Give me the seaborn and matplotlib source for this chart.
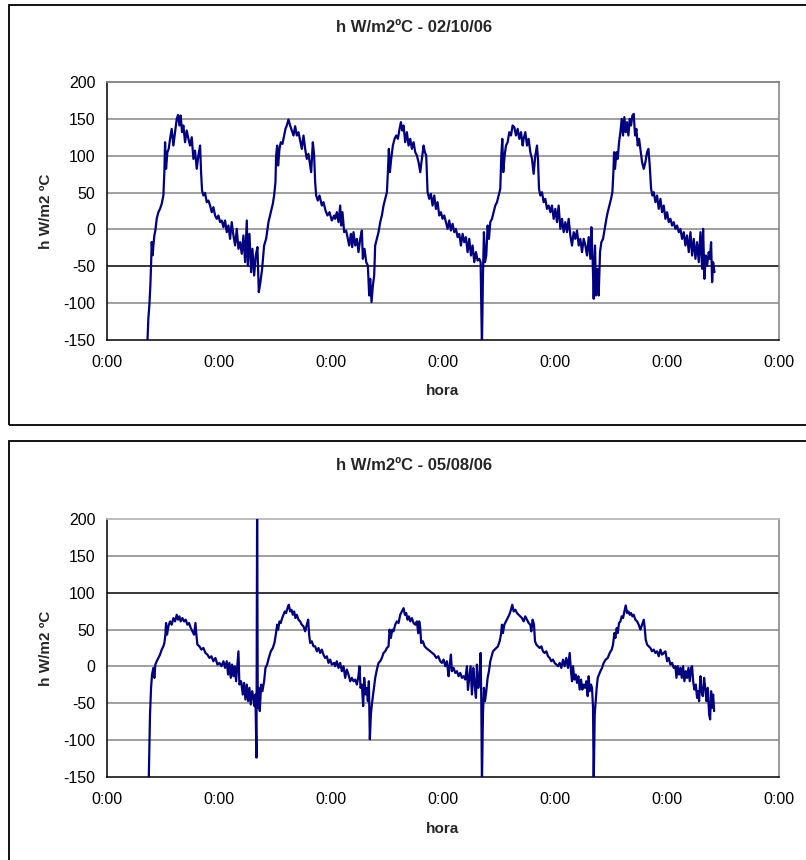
import matplotlib
matplotlib.use("Agg")
import matplotlib.pyplot as plt
import pandas as pd
import seaborn as sns
from matplotlib.patches import Rectangle
from matplotlib.ticker import FuncFormatter, FixedLocator

# ---------------------------------------------------------------- data
titulos = ["h W/m2ºC - 02/10/06", "h W/m2ºC - 05/08/06"]
etiqueta_x = "hora"
etiqueta_y = "h W/m2 ºC"
ticks_y = [-150, -100, -50, 0, 50, 100, 150, 200]
ticks_x = [0, 24, 48, 72, 96, 120, 144]   # hours since start, one per day

# series 02/10/06  (hours, h)
hora_021006 = [
    8.75, 8.96, 9.18, 9.39, 9.54, 9.68, 9.89, 10.04, 10.25, 10.46,
    10.75, 11.11, 11.46, 11.82, 12.18, 12.39, 12.54, 12.75, 13.04, 13.32,
    13.61, 13.96, 14.32, 14.68, 15.04, 15.32, 15.61, 15.89, 16.18, 16.46,
    16.82, 17.18, 17.54, 17.89, 18.25, 18.61, 18.96, 19.32, 19.68, 20.04,
    20.25, 20.46, 20.75, 21.11, 21.46, 21.82, 22.18, 22.54, 22.89, 23.25,
    23.61, 23.96, 24.32, 24.68, 25.04, 25.39, 25.75, 26.11, 26.46, 26.82,
    27.18, 27.54, 27.89, 28.25, 28.61, 28.96, 29.32, 29.68, 30.04, 30.25,
    30.61, 30.96, 31.25, 31.61, 31.96, 32.32, 32.61, 32.96, 33.32, 33.75,
    34.18, 34.68, 35.18, 35.61, 35.89, 36.18, 36.32, 36.54, 36.75, 37.04,
    37.32, 37.68, 38.04, 38.32, 38.61, 38.96, 39.32, 39.68, 40.04, 40.39,
    40.75, 41.11, 41.46, 41.82, 42.18, 42.54, 42.89, 43.25, 43.61, 43.82,
    44.18, 44.46, 44.68, 44.89, 45.25, 45.61, 46.11, 46.46, 46.89, 47.32,
    47.75, 48.25, 48.75,
    48.96, 49.32, 49.68, 50.04, 50.25, 50.53, 50.89, 51.32, 51.61, 51.96,
    52.32, 52.61, 52.89, 53.25, 53.61, 53.96, 54.32, 54.68, 54.89, 55.25,
    55.61, 55.96, 56.25, 56.46, 56.75, 57.04, 57.32, 57.53, 57.89, 58.25,
    58.61, 58.96, 59.32, 59.68, 60.04, 60.25, 60.46, 60.68, 60.96, 61.32,
    61.68, 62.04, 62.39, 62.75, 63.04, 63.32, 63.61, 63.96, 64.32, 64.68,
    65.04, 65.39, 65.75, 66.11, 66.46, 66.82, 67.18, 67.54, 67.89, 68.18,
    68.46, 68.75, 69.11, 69.46, 69.82, 70.18, 70.54, 70.89, 71.25, 71.61,
    71.96, 72.32, 72.68, 73.04, 73.39, 73.75, 74.11, 74.46, 74.82, 75.18,
    75.54, 75.89, 76.25, 76.61, 76.96, 77.32, 77.68, 78.04, 78.39, 78.75,
    79.11, 79.46, 79.82, 80.11, 80.39, 80.61, 80.82, 81.04, 81.32, 81.61,
    81.89, 82.18, 82.54, 82.89, 83.25, 83.61, 83.96, 84.32, 84.54, 84.75,
    84.96, 85.25, 85.54, 85.89, 86.25, 86.61, 86.96, 87.32, 87.68, 88.04,
    88.39, 88.75, 89.11,
    89.32, 89.68, 90.04, 90.39, 90.75, 91.11, 91.46, 91.82, 92.18, 92.39,
    92.61, 92.89, 93.25, 93.61, 93.96, 94.32, 94.68, 95.04, 95.39, 95.75,
    96.11, 96.46, 96.82, 97.18, 97.54, 97.89, 98.25, 98.61, 98.96, 99.32,
    99.68, 100.04, 100.39, 100.75, 101.11, 101.46, 101.82, 102.18, 102.54, 102.89,
    103.25, 103.61, 103.82, 104.11, 104.32, 104.61, 104.82, 105.11, 105.39, 105.68,
    105.96, 106.32, 106.68, 107.04, 107.32, 107.68, 108.04, 108.32, 108.54, 108.68,
    108.89, 109.18, 109.46, 109.75, 110.04, 110.32, 110.61, 110.89, 111.18, 111.46,
    111.75, 112.04, 112.32, 112.61, 112.89, 113.18, 113.46, 113.75, 114.04, 114.32,
    114.68, 115.04, 115.39, 115.75, 116.04, 116.32, 116.61, 116.89, 117.18, 117.54,
    117.89, 118.25, 118.61, 118.96, 119.32, 119.68, 120.04, 120.39, 120.75, 121.11,
    121.46, 121.82, 122.18, 122.54, 122.89, 123.25, 123.61, 123.96, 124.32, 124.68,
    125.04, 125.39, 125.75, 126.11, 126.46, 126.82, 127.18, 127.54, 127.75, 128.04,
    128.32, 128.61, 128.96, 129.18, 129.46, 129.68, 129.89, 130.18,
]
h_021006 = [
    -155, -121, -103, -76, -49, -17, -35, -22, -8, -1.5,
    14.4, 23.4, 27.9, 34.7, 46, 77.7, 118.3, 82.2, 104.8, 109.3,
    122.9, 136.4, 113.8, 131.9, 150, 155.4, 141, 154.5, 131.9, 141,
    118.3, 134.2, 122.9, 113.8, 125.1, 95.7, 107, 82.2, 100.3, 113.8,
    77.7, 52.8, 46, 49.6, 37, 39.2, 32.4, 23.4, 30.2, 18.9,
    14.4, 18.9, 9.9, 12.1, 3.1, 12.1, -3.7, 5.3, -12.8, 9.9,
    -8.2, -21.7, 0.8, -26.3, -17.3, -33.1, -8.2, -44.4, 12.1, -48.9,
    -6, -58, -26.3, -62.5, -35.4, -24, -85.1, -71.5, -53.5, -21.8,
    -12.8, 9.9, 23.4, 34.7, 46, 64.1, 100.3, 113.8, 86.7, 109.3,
    118.3, 116.1, 127.4, 136.4, 141, 149.1, 141, 134.2, 127.4, 140,
    127.4, 131.9, 120.6, 109.3, 127.4, 109.3, 95.7, 102.5, 86.7, 77.7,
    118.3, 100.3, 64.1, 46, 39.2, 46, 32.4, 37, 25.7, 18.9,
    23.4, 12.1, 18.9,
    14.4, 23.4, 9.9, 32.4, 5.3, 23.4, -3.7, -1.5, -10.5, -21.8,
    -6, -24, -3.7, -21.8, -12.8, -30.8, -12.8, -1.5, -39.9, -26.3,
    -44.4, -48.9, -89.6, -67, -98.6, -76, -62.4, -21.8, -12.8, -3.7,
    9.9, 18.9, 32.4, 41.5, 50.5, 77.7, 109.3, 77.7, 95.7, 113.8,
    122.9, 127.4, 122.9, 136.4, 145.5, 134.2, 141, 118.3, 131.9, 113.8,
    122.9, 109.3, 118.3, 104.8, 100.3, 91.2, 77.7, 95.7, 113.8, 104.8,
    100.3, 50.5, 41.5, 48.3, 32.4, 46, 27.9, 37, 18.9, 23.4,
    14.4, 18.9, 9.9, 0.8, 12.1, -1.5, 7.6, -3.7, 0.8, -10.5,
    -6, -21.8, -6, -17.3, -10.5, -30.8, -12.8, -35.4, -21.8, -44.4,
    -30.8, -42.2, -39.9, -44.4, -160, -62.4, -3.7, -44.4, -35.4, 5.3,
    -12.8, 9.9, 14.4, 23.4, 32.4, 37, 46, 55.1, 100.3, 122.9,
    77.7, 100.3, 113.8, 118.3, 131.9, 127.4, 141, 138.7, 127.4, 136.4,
    122.9, 131.9, 113.8,
    122.9, 131.9, 113.8, 122.9, 104.8, 95.7, 75.4, 100.3, 113.8, 95.7,
    55.1, 46, 50.5, 37, 41.5, 27.9, 32.4, 23.4, 32.4, 14.4,
    27.9, 9.9, 32.4, 0.8, 14.4, -3.7, 9.9, -3.7, 14.4, -8.2,
    -21.8, -3.7, -12.8, -1.5, -21.8, -12.8, -30.8, -12.8, -21.8, -35.4,
    -10.5, -39.9, 3.1, -44.4, -94.1, -21.8, -89.6, -53.5, -89.6, -30.8,
    -17.3, -12.8, 0.8, 14.4, 23.4, 32.4, 41.5, 50.5, 77.7, 104.8,
    82.2, 104.8, 95.7, 118.3, 131.9, 150, 127.4, 152.3, 131.9, 145.5,
    127.4, 150, 141, 154.5, 156.8, 127.4, 136.4, 113.8, 122.9, 109.3,
    91.2, 82.2, 91.2, 104.8, 109.3, 86.7, 55.1, 46, 50.5, 37,
    46, 27.9, 41.5, 23.4, 32.4, 14.4, 23.4, 9.9, 14.4, 5.3,
    9.9, 0.8, 5.3, -3.7, 0.8, -12.8, -3.7, -21.8, -8.2, -30.8,
    -3.7, -35.4, -12.8, -39.9, -17.3, -44.4, -3.7, -53.5, 0.8, -67,
    -35.4, -48.9, -30.8, -39.9, -17.3, -71.5, -44.4, -58,
]

# series 05/08/06  (hours, h)
hora_050806 = [
    9.04, 9.32, 9.54, 9.75, 10.04, 10.25, 10.46, 10.75, 11.11, 11.46,
    11.82, 12.18, 12.39, 12.61, 12.75, 12.96, 13.25, 13.61, 13.96, 14.32,
    14.68, 15.04, 15.32, 15.61, 15.89, 16.25, 16.61, 16.96, 17.32, 17.68,
    18.04, 18.39, 18.75, 19.04, 19.25, 19.46, 19.89, 20.32, 20.75, 21.18,
    21.61, 22.04, 22.46, 22.89, 23.32, 23.75, 24.18, 24.61, 25.04, 25.39,
    25.75, 26.04, 26.32, 26.61, 26.89, 27.18, 27.46, 27.75, 28.04, 28.25,
    28.46, 28.82, 29.18, 29.46, 29.75, 30.04, 30.32, 30.61, 30.89, 31.18,
    31.46, 31.68, 31.89, 32.11, 32.25, 32.39, 32.61, 32.82, 33.11, 33.39,
    33.75, 34.04, 34.39, 34.75, 35.18, 35.61, 35.96, 36.25, 36.54, 36.75,
    37.04, 37.32, 37.61, 37.89, 38.18, 38.46, 38.75, 39.04, 39.32, 39.61,
    39.89, 40.18, 40.46, 40.75, 41.11, 41.46, 41.82, 42.18, 42.54, 42.89,
    43.18, 43.39, 43.61, 43.96, 44.32, 44.68, 45.04, 45.39, 45.75, 46.11,
    46.46, 46.82, 47.18, 47.54, 47.89, 48.25, 48.75,
    48.96, 49.32, 49.68, 50.04, 50.39, 50.75, 51.11, 51.46, 51.82, 52.18,
    52.54, 52.89, 53.25, 53.61, 53.89, 54.18, 54.39, 54.68, 54.96, 55.18,
    55.46, 55.75, 55.96, 56.18, 56.39, 56.61, 56.82, 57.18, 57.54, 57.89,
    58.25, 58.61, 58.96, 59.32, 59.68, 60.04, 60.39, 60.61, 60.89, 61.18,
    61.46, 61.82, 62.18, 62.54, 62.89, 63.25, 63.61, 63.89, 64.18, 64.46,
    64.75, 65.04, 65.39, 65.75, 66.11, 66.46, 66.75, 66.96, 67.18, 67.39,
    67.75, 68.11, 68.46, 68.89, 69.32, 69.75, 70.18, 70.61, 71.04, 71.46,
    71.82, 72.18, 72.54, 72.89, 73.25, 73.46, 73.75, 73.96, 74.32, 74.68,
    75.04, 75.39, 75.75, 76.11, 76.46, 76.82, 77.18, 77.39, 77.68, 77.96,
    78.25, 78.54, 78.82, 79.11, 79.32, 79.61, 79.89, 80.11, 80.25, 80.39,
    80.61, 80.82, 81.04, 81.32, 81.61, 81.89, 82.18, 82.46, 82.75, 83.11,
    83.46, 83.82, 84.18, 84.46, 84.68, 84.89, 85.18, 85.54, 85.89, 86.25,
    86.61, 86.89, 87.18, 87.54, 87.89, 88.25, 88.61, 88.96, 89.32,
    89.68, 90.04, 90.39, 90.75, 90.96, 91.25, 91.54, 91.75, 92.04, 92.39,
    92.75, 93.11, 93.46, 93.82, 94.18, 94.54, 94.89, 95.25, 95.61, 95.96,
    96.32, 96.68, 97.04, 97.39, 97.75, 98.11, 98.46, 98.82, 99.18, 99.46,
    99.68, 99.89, 100.18, 100.46, 100.75, 101.04, 101.32, 101.61, 101.89, 102.18,
    102.46, 102.75, 103.04, 103.25, 103.46, 103.75, 103.96, 104.18, 104.32, 104.54,
    104.75, 104.96, 105.18, 105.46, 105.75, 106.11, 106.46, 106.89, 107.32, 107.75,
    108.18, 108.46, 108.75, 108.96, 109.25, 109.46, 109.75, 110.04, 110.32, 110.61,
    110.89, 111.18, 111.46, 111.75, 112.04, 112.32, 112.61, 112.89, 113.25, 113.61,
    113.96, 114.32, 114.68, 115.04, 115.25, 115.46, 115.75, 116.11, 116.46, 116.82,
    117.18, 117.54, 117.89, 118.25, 118.61, 118.96, 119.32, 119.68, 120.04, 120.39,
    120.75, 121.11, 121.46, 121.82, 122.04, 122.32, 122.61, 122.89, 123.18, 123.46,
    123.75, 124.04, 124.32, 124.61, 124.89, 125.18, 125.39, 125.61, 125.89, 126.18,
    126.46, 126.68, 126.89, 127.18, 127.39, 127.68, 127.96, 128.25, 128.46, 128.75,
    129.04, 129.25, 129.46, 129.68, 129.89, 130.11,
]
h_050806 = [
    -155, -65.1, -29.1, -11, -2, -15.5, 2.5, 7, 11.5, 16,
    22.8, 27.3, 31.8, 43.1, 58.9, 43.1, 54.4, 61.1, 56.6, 65.6,
    61.1, 70.1, 63.4, 67.9, 61.1, 65.6, 61.1, 63.4, 56.6, 58.9,
    52.1, 47.6, 43.1, 58.9, 43.1, 29.6, 27.3, 22.8, 25, 18.3,
    16, 11.5, 13.8, 7, 11.5, 2.5, 4.8, 0.3, 7, -2,
    7, -11, 4.8, -15.5, 2.5, -13.3, 0.3, -20.1, 2.5, 20.5,
    -24.6, -20.1, -38.1, -22.3, -44.9, -24.6, -47.1, -29.1, -51.6, -33.6,
    -42.6, -53.9, -38.1, -123.7, 215, -56.1, -29.1, -60.6, -24.6, -33.6,
    -20.1, -2, 2.5, 11.5, 20.5, 25, 31.8, 43.1, 56.6, 49.9,
    61.1, 58.9, 65.6, 70.1, 74.6, 72.4, 79.1, 83.7, 74.6, 76.9,
    70.1, 74.6, 65.6, 70.1, 63.4, 61.1, 56.6, 54.4, 47.6, 56.6,
    63.4, 43.1, 31.8, 34.1, 27.3, 27.3, 20.5, 25, 18.3, 22.8,
    16, 11.5, 13.8, 4.8, 9.3, 2.5, 4.8,
    0.3, 7, -2, 4.8, -6.5, 0.3, -15.5, -4.3, -11, -20.1,
    -15.5, -20.1, -17.8, -24.6, -15.5, 0.3, -29.1, -24.6, -53.9, -15.5,
    -38.1, -29.1, -47.1, -20.1, -98.9, -65.1, -51.6, -33.6, -15.5, -4.3,
    4.8, 7, 11.5, 18.3, 20.5, 25, 27.3, 49.9, 38.6, 49.9,
    47.6, 56.6, 61.1, 58.9, 70.1, 74.6, 79.1, 70.1, 72.4, 63.4,
    67.9, 61.1, 65.6, 58.9, 56.6, 61.1, 45, 61.1, 52.1, 31.8,
    34.1, 27.3, 25, 22.8, 20.5, 18.3, 16, 11.5, 13.8, 7,
    4.8, 9.3, 0.3, 7, -13.3, 0.3, 16, -6.5, -2, -8.8,
    -6.5, -13.3, -8.8, -15.5, -13.3, -17.8, 0.3, -31.9, -15.5, 0.3,
    -38.1, -2, -24.6, -42.6, 2.5, -29.1, -15.5, 18.3, -44.9, -160,
    -65.1, -29.1, -47.1, -33.6, -15.5, -6.5, 7, 13.8, 20.5, 22.8,
    25, 27.3, 34.1, 43.1, 56.6, 45.3, 56.6, 61.1, 65.6, 70.1,
    76.9, 83.7, 74.6, 76.9, 72.4, 70.1, 67.9, 65.6, 61.1,
    67.9, 63.4, 58.9, 56.6, 47.6, 63.4, 56.6, 34.1, 29.6, 27.3,
    25, 27.3, 20.5, 18.3, 20.5, 13.8, 11.5, 7, 9.3, 4.8,
    2.5, 0.3, 4.8, -2, 9.3, 0.3, 11.5, -2, 18.3, -6.5,
    -20.1, 0.3, -17.8, -11, -22.3, -13.3, -31.4, -17.8, -31.4, -24.6,
    -29.1, -20.1, -40.3, -13.3, -33.6, -24.6, -29.1, -56.1, -160, -65.1,
    -47.1, -29.1, -15.5, -11, -6.5, -2, 4.8, 9.3, 11.5, 18.3,
    22.8, 29.6, 45.3, 38.6, 52.1, 45.3, 58.9, 61.1, 67.9, 65.6,
    74.6, 82.7, 72.4, 74.6, 70.1, 72.4, 67.9, 70.1, 63.4, 61.1,
    56.6, 49.9, 56.6, 63.4, 52.1, 36.3, 29.6, 27.3, 25, 20.5,
    22.8, 18.3, 20.5, 13.8, 22.8, 16, 18.3, 20.5, 7, 11.5,
    2.5, 4.8, -2, 0.3, -15.5, 0.3, -11, -2, -15.5, 0.3,
    -20.1, -6.5, -15.5, -2, -20.1, -2, 0.3, -20.1, -31.4, -24.6,
    -42.6, -33.6, -47.1, -13.3, -33.6, -40.3, -15.5, -31.4, -47.1, -29.1,
    -65.1, -71.9, -33.6, -56.1, -38.1, -60.6,
]

series = [(hora_021006, h_021006), (hora_050806, h_050806)]

# ---------------------------------------------------------------- style
sns.set_style("white")
plt.rcParams["font.family"] = ["Liberation Sans", "DejaVu Sans"]

W, H = 806, 860
fig = plt.figure(figsize=(W / 100, H / 100), dpi=100)
fig.patch.set_facecolor("white")


def fx(px):
    return px / W


def fy(py):
    return 1 - py / H


LINE = "#000080"
GRID = "#858585"

panels = [
    dict(frame_top=5, frame_bottom=425, plot_top=82, plot_bottom=340,
         title_y=28, xlabel_y=391, dark_grid=-50, top_spine="#808080"),
    dict(frame_top=441, frame_bottom=900, plot_top=519, plot_bottom=777,
         title_y=466, xlabel_y=829, dark_grid=100, top_spine="#b8b8b8"),
]

plot_left, plot_right = 106.5, 779

for (hora, h), titulo, p in zip(series, titulos, panels):
    # outer chart frame
    fig.add_artist(Rectangle((fx(9), fy(p["frame_bottom"])),
                             fx(830 - 9), (p["frame_bottom"] - p["frame_top"]) / H,
                             transform=fig.transFigure, fill=False,
                             ec="black", lw=1.3, clip_on=False))
    fig.text(fx(414), fy(p["title_y"]), titulo, ha="center", va="center",
             fontsize=12, fontweight="bold")

    ax = fig.add_axes([fx(plot_left), fy(p["plot_bottom"]),
                       (plot_right - plot_left) / W,
                       (p["plot_bottom"] - p["plot_top"]) / H])
    ax.set_facecolor("white")

    for v in ticks_y[1:-1]:
        ax.axhline(v, color="black" if v == p["dark_grid"] else GRID,
                   lw=1.1, zorder=1)

    df = pd.DataFrame({"hora": hora, "h": h})
    sns.lineplot(data=df, x="hora", y="h", ax=ax, color=LINE, lw=1.6,
                 estimator=None, sort=False, legend=False, zorder=3)

    ax.set_xlim(ticks_x[0], ticks_x[-1])
    ax.set_ylim(ticks_y[0], ticks_y[-1])
    ax.xaxis.set_major_locator(FixedLocator(ticks_x))
    ax.yaxis.set_major_locator(FixedLocator(ticks_y))
    ax.xaxis.set_major_formatter(
        FuncFormatter(lambda v, _: f"{int(v % 24)}:{int(round((v % 1) * 60)):02d}"))
    ax.yaxis.set_major_formatter(FuncFormatter(lambda v, _: f"{int(v)}"))

    ax.tick_params(axis="both", direction="out", length=4, width=1,
                   color="black", labelsize=11.5, labelcolor="black")
    ax.tick_params(axis="x", pad=7)
    ax.tick_params(axis="y", pad=4)

    for side in ("left", "bottom"):
        ax.spines[side].set_color("black")
        ax.spines[side].set_linewidth(1.1)
    ax.spines["right"].set_color("#808080")
    ax.spines["right"].set_linewidth(1.1)
    ax.spines["top"].set_color(p["top_spine"])
    ax.spines["top"].set_linewidth(1.3)

    ax.set_xlabel(etiqueta_x, fontsize=11, fontweight="bold")
    ax.set_ylabel(etiqueta_y, fontsize=11, fontweight="bold")
    ax.xaxis.set_label_coords(0.5, -(p["xlabel_y"] - p["plot_bottom"]) /
                              (p["plot_bottom"] - p["plot_top"]))
    ax.yaxis.label.set_va("center")
    ax.xaxis.label.set_va("center")
    ax.yaxis.set_label_coords(-(plot_left - 46) / (plot_right - plot_left), 0.5)

fig.savefig("out.png", dpi=100, facecolor="white")
